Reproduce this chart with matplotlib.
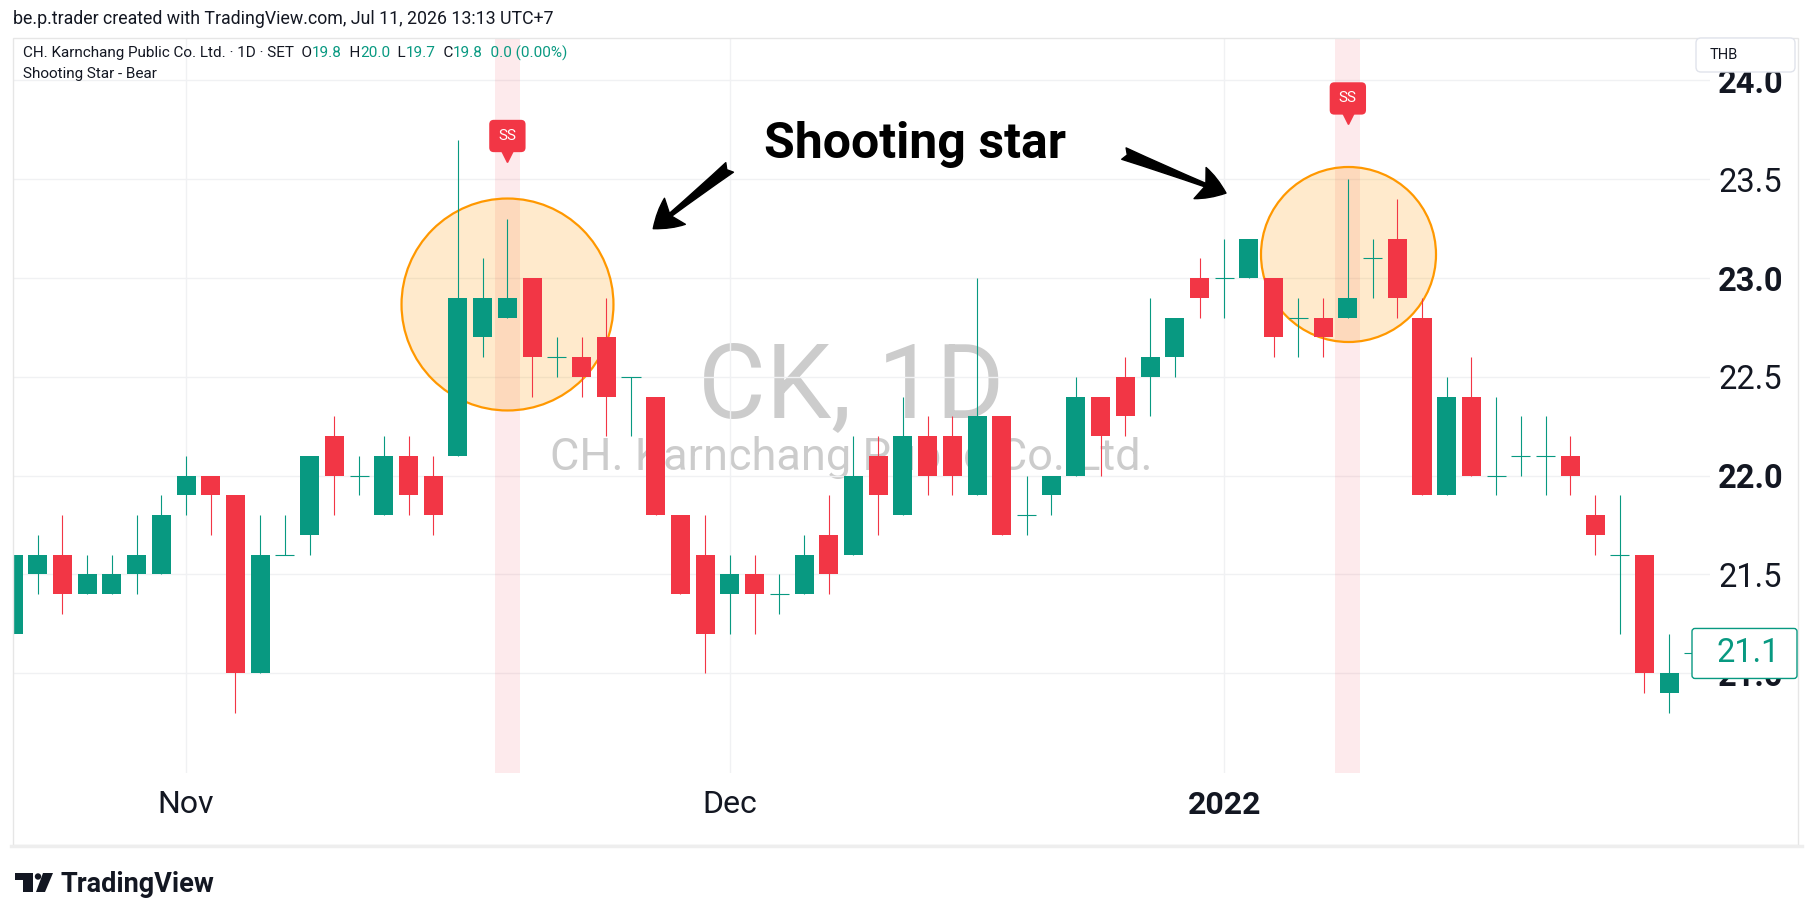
import numpy as np
import matplotlib
matplotlib.use("Agg")
import matplotlib.pyplot as plt
import matplotlib.transforms as mtransforms
from matplotlib.patches import FancyArrowPatch, ArrowStyle, Rectangle, FancyBboxPatch, Polygon, Circle

plt.rcParams['font.family'] = ['Roboto', 'DejaVu Sans']

W, H = 1815, 921
GREEN = '#089981'
RED = '#f23645'
INK = '#131722'

# daily OHLC, CK (SET), late Oct 2021 - mid Jan 2022
opens = [21.2, 21.5, 21.6, 21.4, 21.4, 21.5, 21.5, 21.9, 22.0, 21.9,
         21.0, 21.6, 21.7, 22.2, 22.0, 21.8, 22.1, 22.0, 22.1, 22.7,
         22.8, 23.0, 22.6, 22.6, 22.7, 22.5, 22.4, 21.8, 21.6, 21.4,
         21.5, 21.4, 21.4, 21.7, 21.6, 22.1, 21.8, 22.2, 22.2, 21.9,
         22.3, 21.8, 21.9, 22.0, 22.4, 22.5, 22.5, 22.6, 23.0, 23.0,
         23.0, 23.0, 22.8, 22.8, 22.8, 23.1, 23.2, 22.8, 21.9, 22.4,
         22.0, 22.1, 22.1, 22.1, 21.8, 21.6, 21.6, 20.9, 21.1]
highs = [21.6, 21.7, 21.8, 21.6, 21.6, 21.8, 21.9, 22.1, 22.0, 21.9,
         21.8, 21.8, 22.1, 22.3, 22.1, 22.2, 22.2, 22.1, 23.7, 23.1,
         23.3, 23.0, 22.7, 22.7, 22.9, 22.5, 22.4, 21.8, 21.8, 21.6,
         21.6, 21.5, 21.7, 21.9, 22.2, 22.2, 22.4, 22.3, 22.3, 23.0,
         22.3, 22.0, 22.0, 22.5, 22.4, 22.6, 22.9, 22.8, 23.1, 23.2,
         23.2, 23.0, 22.9, 22.9, 23.5, 23.2, 23.4, 22.9, 22.5, 22.6,
         22.4, 22.3, 22.3, 22.2, 21.9, 21.9, 21.6, 21.2, 21.1]
lows = [21.2, 21.4, 21.3, 21.4, 21.4, 21.4, 21.5, 21.8, 21.7, 20.8,
        21.0, 21.6, 21.6, 21.8, 21.9, 21.8, 21.8, 21.7, 22.1, 22.6,
        22.8, 22.4, 22.5, 22.4, 22.2, 22.2, 21.8, 21.4, 21.0, 21.2,
        21.2, 21.3, 21.4, 21.4, 21.6, 21.7, 21.8, 21.9, 21.9, 21.9,
        21.7, 21.7, 21.8, 22.0, 22.0, 22.2, 22.3, 22.5, 22.8, 22.8,
        23.0, 22.6, 22.6, 22.6, 22.8, 22.9, 22.8, 21.9, 21.9, 22.0,
        21.9, 22.0, 21.9, 21.9, 21.6, 21.2, 20.9, 20.8, 21.1]
closes = [21.6, 21.6, 21.4, 21.5, 21.5, 21.6, 21.8, 22.0, 21.9, 21.0,
          21.6, 21.6, 22.1, 22.0, 22.0, 22.1, 21.9, 21.8, 22.9, 22.9,
          22.9, 22.6, 22.6, 22.5, 22.4, 22.5, 21.8, 21.4, 21.2, 21.5,
          21.4, 21.4, 21.6, 21.5, 22.0, 21.9, 22.2, 22.0, 22.0, 22.3,
          21.7, 21.8, 22.0, 22.4, 22.2, 22.3, 22.6, 22.8, 22.9, 23.0,
          23.2, 22.7, 22.8, 22.7, 22.9, 23.1, 22.9, 21.9, 22.4, 22.0,
          22.0, 22.1, 22.1, 22.0, 21.7, 21.6, 21.0, 21.0, 21.1]

month_ticks = [7, 29, 49]
month_labels = ['Nov', 'Dec', '2022']
price_ticks = [21.0, 21.5, 22.0, 22.5, 23.0, 23.5, 24.0]

# Shooting Star - Bear signals (bar index, marker tip price)
signal_bars = [20, 54]
signal_tips = [23.59, 23.78]

fig = plt.figure(figsize=(W / 100, H / 100), dpi=100)
fig.patch.set_facecolor('white')
# pixel helper: x from left, y from top
pix = mtransforms.Affine2D().scale(1 / W, -1 / H).translate(0, 1) + fig.transFigure

ax = fig.add_axes([13 / W, 1 - 773 / H, (1710 - 13) / W, (773 - 38) / H])
ax.set_xlim(0, 68.65)
ax.set_ylim(20.495, 24.215)
for s in ax.spines.values():
    s.set_visible(False)

x = np.arange(len(opens))
o, hi, lo, c = map(np.array, (opens, highs, lows, closes))
col = np.where(c >= o, GREEN, RED)
flat = np.isclose(o, c)

ax.vlines(x, lo, hi, colors=col, lw=0.8, zorder=3)
ax.bar(x[~flat], np.abs(c - o)[~flat], bottom=np.minimum(o, c)[~flat], width=0.77,
       color=col[~flat], lw=0, zorder=3)
ax.hlines(o[flat], x[flat] - 0.385, x[flat] + 0.385, colors=col[flat], lw=0.8, zorder=3)

# grid + axes
ax.set_axisbelow(True)
ax.grid(True, color='#f0f1f3', lw=1)
ax.yaxis.tick_right()
ax.set_yticks(price_ticks)
ax.set_yticklabels([f'{p:.1f}' for p in price_ticks])
ax.tick_params(axis='y', length=0, pad=5.8, labelsize=23.5, labelcolor=INK)
for lbl, p in zip(ax.get_yticklabels(), price_ticks):
    if p == int(p):
        lbl.set_fontweight('bold')
ax.set_xticks(month_ticks)
ax.set_xticklabels(month_labels)
ax.tick_params(axis='x', length=0, pad=12, labelsize=23, labelcolor=INK)
for lbl in ax.get_xticklabels():
    if lbl.get_text().isdigit():
        lbl.set_fontweight('bold')

# watermark
ax.text(0.494, 0.484, 'CK, 1D', transform=ax.transAxes, ha='center', va='baseline',
        fontsize=75, color='#cccccc', zorder=0.5)
ax.text(0.494, 0.412, 'CH. Karnchang Public Co. Ltd.', transform=ax.transAxes,
        ha='center', va='baseline', fontsize=32.5, color='#cccccc', zorder=0.5)

# signal columns + markers
for b, tip in zip(signal_bars, signal_tips):
    ax.axvspan(b - 0.5, b + 0.5, color=RED, alpha=0.1, lw=0, zorder=0.6)
    tri = mtransforms.offset_copy(ax.transData, fig=fig, x=0, y=5.5, units='dots')
    ax.plot([b], [tip], marker='v', ms=8.5, color=RED, transform=tri, zorder=6)
    ax.annotate('SS', xy=(b, tip), xytext=(0, 25.5 * 0.72), textcoords='offset points',
                ha='center', va='center', color='white', fontsize=11,
                bbox=dict(boxstyle='round,pad=0.6,rounding_size=0.3', fc=RED, ec='none'),
                zorder=6)

# highlight circles
ax.plot([20], [22.87], 'o', ms=152.6, mfc=(1, 0.596, 0, 0.2), mec='#ff9800', mew=1.6, zorder=1)
ax.plot([54], [23.12], 'o', ms=126, mfc=(1, 0.596, 0, 0.2), mec='#ff9800', mew=1.6, zorder=1)

# arrows + caption
for tail, tip in [((28.99, 23.56), (25.9, 23.25)), ((44.94, 23.63), (49.07, 23.43))]:
    ax.add_patch(FancyArrowPatch(tail, tip, arrowstyle=ArrowStyle.Fancy(head_length=0.5, head_width=0.6, tail_width=0.22),
                                 mutation_scale=40, color='black', shrinkA=0, shrinkB=0, zorder=7))
ax.text(36.5, 23.61, 'Shooting star', ha='center', va='baseline', fontsize=36,
        fontweight='bold', color='black', zorder=7)

# header and legend
fig.text(13, 19, 'be.p.trader created with TradingView.com, Jul 11, 2026 13:13 UTC+7',
         transform=pix, fontsize=12.8, va='center', color=INK)

renderer = fig.canvas.get_renderer()
legend_parts = [('CH. Karnchang Public Co. Ltd. · 1D · SET', INK), ('  O', INK), ('19.8', GREEN),
                ('  H', INK), ('20.0', GREEN), ('  L', INK), ('19.7', GREEN),
                ('  C', INK), ('19.8', GREEN), ('  0.0 (0.00%)', GREEN)]
xp = 23
for s, colr in legend_parts:
    t = fig.text(xp, 53, s, transform=pix, fontsize=11, va='center', color=colr)
    xp += t.get_window_extent(renderer).width
fig.text(23, 74, 'Shooting Star - Bear', transform=pix, fontsize=11, va='center', color=INK)

# frame
fig.add_artist(Rectangle((13, 38), 1785, 807, transform=pix, fill=False, ec='#e6e6e6', lw=1, zorder=8))
fig.add_artist(plt.Line2D([11, 1802], [846, 846], transform=pix, color='#eeeeee', lw=2.5, zorder=8))

# currency box
fig.add_artist(FancyBboxPatch((1696, 38), 99, 34, boxstyle='round,pad=0,rounding_size=5', transform=pix,
                              fc='white', ec='#e0e3eb', lw=1, zorder=10))
fig.text(1710, 55, 'THB', transform=pix, fontsize=10.5, va='center', color=INK, zorder=11)

# last price label
last_y = H - ax.transData.transform((0, closes[-1]))[1]
fig.add_artist(FancyBboxPatch((1692, last_y - 25), 105, 50, boxstyle='round,pad=0,rounding_size=3', transform=pix,
                              fc='white', ec=GREEN, lw=1, zorder=10))
fig.text(1717, last_y, f'{closes[-1]:.1f}', transform=pix, fontsize=23.5, va='center', color=GREEN, zorder=11)

# TradingView logo
fig.add_artist(Polygon([(15, 873), (33, 873), (33, 892), (23, 892), (23, 880), (15, 880)],
                       closed=True, transform=pix, fc='#131722', ec='none'))
fig.add_artist(Circle((38, 876.5), 3.2, transform=pix, fc='#131722', ec='none'))
fig.add_artist(Polygon([(43, 873), (53, 873), (45, 892), (36, 892)], closed=True, transform=pix,
                       fc='#131722', ec='none'))
fig.text(61, 892, 'TradingView', transform=pix, fontsize=19.5, fontweight='bold', va='baseline', color=INK)

fig.savefig('out.png', dpi=100, facecolor='white')
